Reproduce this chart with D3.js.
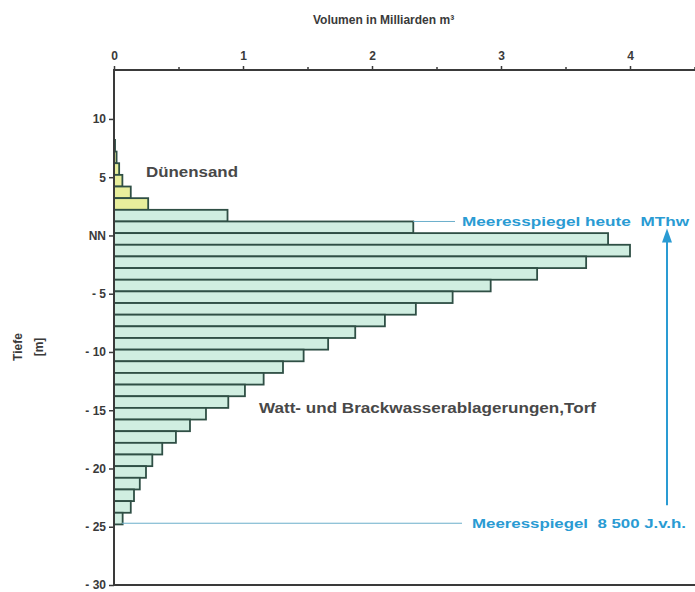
<!DOCTYPE html>
<html>
<head>
<meta charset="utf-8">
<script src="https://cdn.jsdelivr.net/npm/d3@7"></script>
<style>
body { margin: 0; background: #fff; }
text { font-family: "Liberation Sans", Arial, sans-serif; white-space: pre; }
</style>
</head>
<body>
<script>
// Volumen je Tiefenstufe (1 m), in Milliarden m³; Oberkante der Stufe in m bezogen auf NN
var duneTop = [8.2, 7.2, 6.2, 5.2, 4.2, 3.2];
var duneVol = [0.008, 0.02, 0.04, 0.065, 0.13, 0.265];

var wattTop = [2.2, 1.2, 0.2, -0.8, -1.8, -2.8, -3.8, -4.8, -5.8, -6.8, -7.8, -8.8, -9.8,
               -10.8, -11.8, -12.8, -13.8, -14.8, -15.8, -16.8, -17.8, -18.8, -19.8,
               -20.8, -21.8, -22.8, -23.8];
var wattVol = [0.88, 2.32, 3.83, 4.00, 3.66, 3.28, 2.92, 2.625, 2.34, 2.10, 1.87, 1.66, 1.47,
               1.31, 1.16, 1.015, 0.886, 0.713, 0.589, 0.48, 0.374, 0.297, 0.248,
               0.20, 0.155, 0.13, 0.067];

var xTicks = [0, 1, 2, 3, 4];
var xMinor = [0.5, 1.5, 2.5, 3.5, 4.5];
var yTicks = [10, 5, 0, -5, -10, -15, -20, -25, -30];
var yTickLabels = ["10", "5", "NN", "- 5", "- 10", "- 15", "- 20", "- 25", "- 30"];

var seaToday = 1.2;    // MThw
var seaOld = -24.7;    // 8 500 J.v.h.

var w = 695, h = 592;

var svg = d3.select("body").append("svg")
    .attr("width", w)
    .attr("height", h);

var x = d3.scaleLinear().domain([0, 4]).range([114, 630]);
var y = d3.scaleLinear().domain([-30, 14.2]).range([585, 70]);

var ink = "#3a3a3a";
var blue = "#2a9bd3";

// bars
function bars(tops, vols, fill, cls) {
  svg.selectAll("rect." + cls)
    .data(tops)
    .enter().append("rect")
    .attr("class", cls)
    .attr("x", x(0))
    .attr("y", function(d) { return y(d); })
    .attr("width", function(d, i) { return x(vols[i]) - x(0); })
    .attr("height", function(d) { return y(d - 1) - y(d); })
    .attr("fill", fill)
    .attr("stroke", "#2f4f45")
    .attr("stroke-width", 1.8);
}
bars(duneTop, duneVol, "#e8ee9c", "dune");
bars(wattTop, wattVol, "#d0eee1", "watt");

// top axis
var topAx = svg.append("g").attr("transform", "translate(0," + y.range()[1] + ")");
topAx.call(d3.axisTop(x).tickValues(xTicks).tickSize(4).tickPadding(6).tickFormat(d3.format("d")));
topAx.append("g").call(d3.axisTop(x).tickValues(xMinor).tickSize(3).tickFormat(""));
topAx.selectAll(".domain").remove();
topAx.selectAll("line").attr("stroke", ink).attr("stroke-width", 1.5);
topAx.selectAll("text").attr("fill", ink).attr("font-size", 12).attr("font-weight", "bold");
topAx.append("line")
  .attr("x1", x(0) - 1).attr("x2", w)
  .attr("stroke", ink).attr("stroke-width", 2);

// left axis
var leftAx = svg.append("g").attr("transform", "translate(" + x(0) + ",0)");
leftAx.call(d3.axisLeft(y).tickValues(yTicks).tickSize(5).tickPadding(3)
  .tickFormat(function(d, i) { return yTickLabels[i]; }));
leftAx.select(".domain").remove();
leftAx.selectAll("line").attr("stroke", ink).attr("stroke-width", 1.5);
leftAx.selectAll("text").attr("fill", ink).attr("font-size", 12).attr("font-weight", "bold");
leftAx.append("line")
  .attr("y1", y.range()[1]).attr("y2", y(-30))
  .attr("stroke", ink).attr("stroke-width", 2);

// bottom line
svg.append("line")
  .attr("x1", x(0)).attr("x2", w)
  .attr("y1", y(-30)).attr("y2", y(-30))
  .attr("stroke", ink).attr("stroke-width", 2.2);

// titles
svg.append("text")
  .attr("x", 313).attr("y", 24)
  .attr("font-size", 12).attr("font-weight", "bold").attr("fill", ink)
  .text("Volumen in Milliarden m³");

svg.append("text")
  .attr("transform", "translate(22,347) rotate(-90)")
  .attr("text-anchor", "middle")
  .attr("font-size", 12).attr("font-weight", "bold").attr("fill", ink)
  .text("Tiefe");
svg.append("text")
  .attr("transform", "translate(43,347) rotate(-90)")
  .attr("text-anchor", "middle")
  .attr("font-size", 12).attr("font-weight", "bold").attr("fill", ink)
  .text("[m]");

// layer labels
svg.append("text")
  .attr("x", 146).attr("y", 177)
  .attr("font-size", 14.5).attr("font-weight", "bold").attr("fill", "#484848")
  .attr("textLength", 92).attr("lengthAdjust", "spacingAndGlyphs")
  .text("Dünensand");
svg.append("text")
  .attr("x", 259).attr("y", 413)
  .attr("font-size", 14.5).attr("font-weight", "bold").attr("fill", "#484848")
  .attr("textLength", 337).attr("lengthAdjust", "spacingAndGlyphs")
  .text("Watt- und Brackwasserablagerungen,Torf");

// sea level marks
svg.append("line")
  .attr("x1", x(wattVol[1])).attr("x2", 455)
  .attr("y1", y(seaToday)).attr("y2", y(seaToday))
  .attr("stroke", "#6aaecb").attr("stroke-width", 1);
svg.append("text")
  .attr("x", 462).attr("y", y(seaToday) + 4.5)
  .attr("font-size", 13.5).attr("font-weight", "bold").attr("fill", blue)
  .attr("textLength", 227).attr("lengthAdjust", "spacingAndGlyphs")
  .text("Meeresspiegel heute  MThw");

svg.append("line")
  .attr("x1", x(0) + 8).attr("x2", 462)
  .attr("y1", y(seaOld)).attr("y2", y(seaOld))
  .attr("stroke", "#6aaecb").attr("stroke-width", 1);
svg.append("text")
  .attr("x", 472).attr("y", y(seaOld) + 4.5)
  .attr("font-size", 13.5).attr("font-weight", "bold").attr("fill", blue)
  .attr("textLength", 214).attr("lengthAdjust", "spacingAndGlyphs")
  .text("Meeresspiegel  8 500 J.v.h.");

// arrow
var ax = 667;
svg.append("line")
  .attr("x1", ax).attr("x2", ax)
  .attr("y1", y(seaOld) - 18).attr("y2", y(seaToday) + 19)
  .attr("stroke", blue).attr("stroke-width", 2);
svg.append("path")
  .attr("d", "M" + ax + "," + (y(seaToday) + 7) + " l-5,14 l10,0 z")
  .attr("fill", blue);
</script>
</body>
</html>
